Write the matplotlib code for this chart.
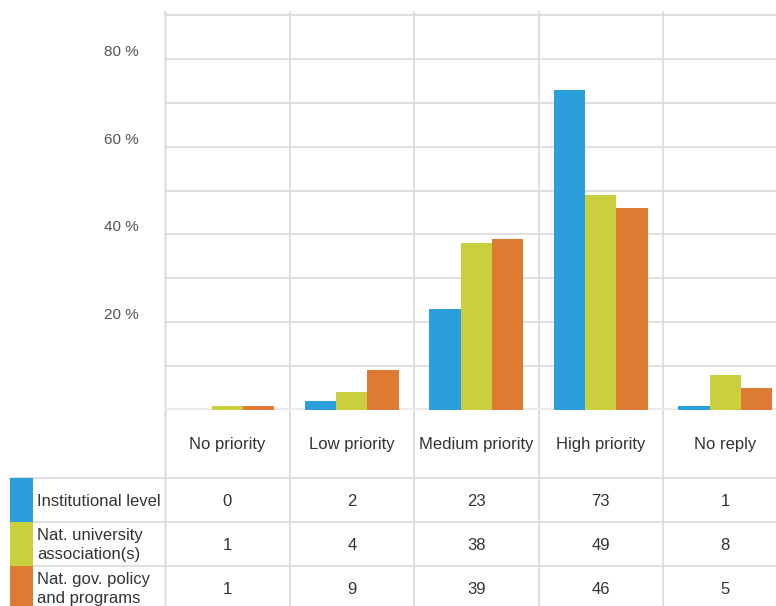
import matplotlib.pyplot as plt
from matplotlib.patches import Rectangle
from matplotlib.transforms import blended_transform_factory, offset_copy

categories = ['No priority', 'Low priority', 'Medium priority', 'High priority', 'No reply']
series = ['Institutional level', 'Nat. university\nassociation(s)', 'Nat. gov. policy\nand programs']
institutional = [0, 2, 23, 73, 1]
association = [1, 4, 38, 49, 8]
government = [1, 9, 39, 46, 5]
values = [institutional, association, government]
colors = ['#2A9FDB', '#C9CF3D', '#DD7B33']
grid_ticks = [0, 10, 20, 30, 40, 50, 60, 70, 80, 90]
label_ticks = [20, 40, 60, 80]

font = ['Liberation Sans', 'DejaVu Sans']
grid_c = '#D8D8DE'
txt_c = '#333333'

W, H = 776, 606
fig = plt.figure(figsize=(W / 100, H / 100), dpi=100)

# full-figure overlay in pixel units for the table rules
ov = fig.add_axes([0, 0, 1, 1], zorder=0)
ov.set_xlim(0, W)
ov.set_ylim(H, 0)
ov.axis('off')

# bar chart area: 5 columns of 124.5 px, baseline at y=410
col_w = 124.5
left = 165
ax = fig.add_axes([left / W, (H - 410) / H, 5 * col_w / W, 398 / H], zorder=1)
ax.patch.set_alpha(0)
ax.set_xlim(-0.5, 4.5)
ax.set_ylim(0, 398 / 4.39)
for s in ax.spines.values():
    s.set_visible(False)
ax.set_xticks([])
ax.set_yticks([])

for t in grid_ticks[1:]:
    ax.axhline(t, color=grid_c, lw=1.2, zorder=0)
ax.axhline(0, color='#EBEBEF', lw=3, zorder=0)

bw = 0.253
for k, (vals, c) in enumerate(zip(values, colors)):
    xs = [i + (k - 1) * bw for i in range(len(categories))]
    ax.bar(xs, vals, width=bw, color=c, zorder=2, linewidth=0)

lab_tr = offset_copy(ax.transData, fig=fig, x=-26, y=7, units='dots')
for t in label_ticks:
    ax.text(-0.5, t, f'{t} %', transform=lab_tr, ha='right', va='center',
            fontsize=11, color='#555555', family=font)

# column separators through chart and table
for k in range(5):
    x = left + k * col_w
    ov.plot([x, x], [12, H], color=grid_c if k else '#E4E4E8',
            lw=1.2 if k else 2.0, zorder=1)

# table rules
ov.plot([10, W], [478, 478], color=grid_c, lw=1.2)
ov.plot([33, W], [522, 522], color=grid_c, lw=1.2)
ov.plot([33, W], [566, 566], color=grid_c, lw=1.2)

tr = blended_transform_factory(ax.transData, ov.transData)
for i, name in enumerate(categories):
    ov.text(i, 444, name, transform=tr, ha='center', va='center',
            fontsize=12, color=txt_c, family=font)

row_top = [478, 522, 566]
row_h = 44
for r, (name, vals, c) in enumerate(zip(series, values, colors)):
    y0 = row_top[r]
    ov.add_patch(Rectangle((10, y0), 23, row_h, color=c, lw=0, zorder=2))
    yc = y0 + row_h / 2 + 1
    ov.text(37, yc, name, ha='left', va='center', fontsize=12, color=txt_c,
            family=font, linespacing=1.4)
    for i, v in enumerate(vals):
        ov.text(i, yc, str(v), transform=tr, ha='center', va='center',
                fontsize=12, color=txt_c, family=font)

fig.savefig('out.png', dpi=100)
